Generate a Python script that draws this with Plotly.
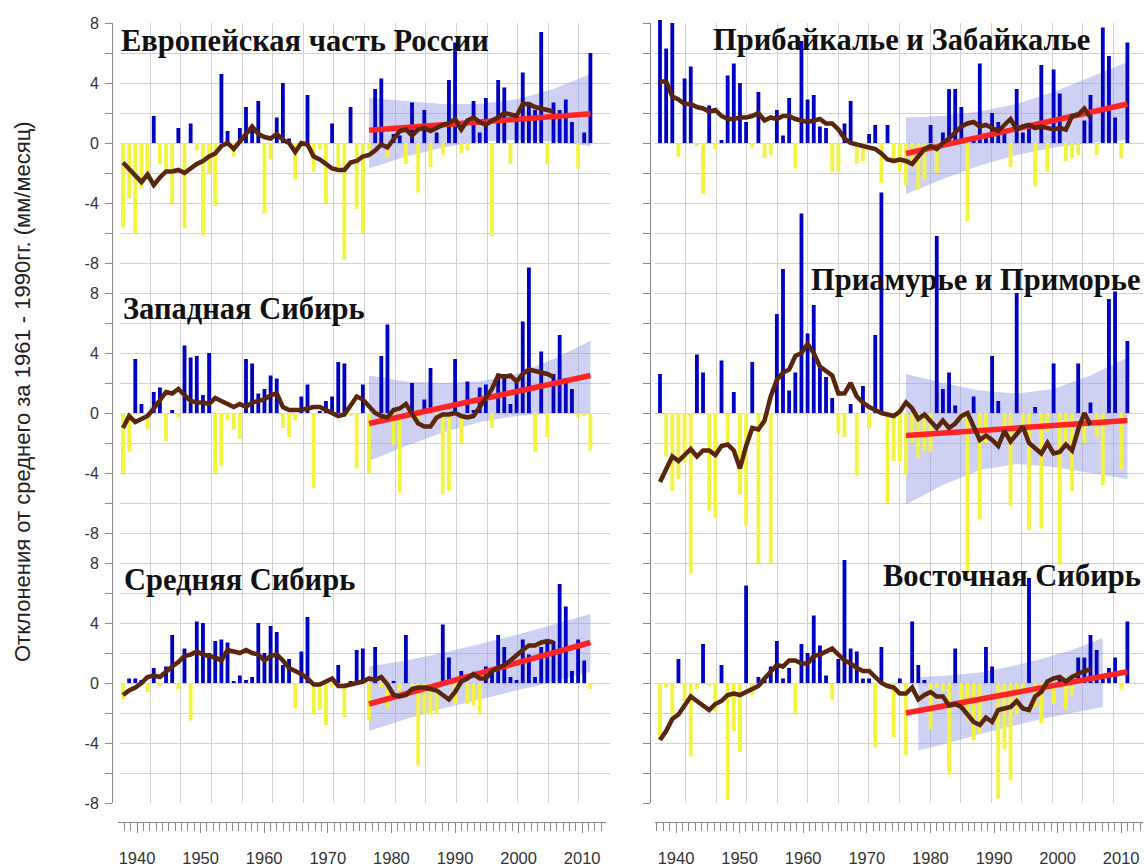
import plotly.graph_objects as go

# ---------------------------------------------------------------- data
YEARS = list(range(1936, 2013))
SMOOTH_YEARS = list(range(1936, 2007))
TREND_YEARS = [1976, 2012]
BAND_YEARS = [1976, 1982, 1988, 1994, 2000, 2006, 2012]
BAND_YEARS_ESIB = [1978, 1983, 1988, 1993, 1998, 2003, 2008]
DECADE_LABELS = [1940, 1950, 1960, 1970, 1980, 1990, 2000, 2010]
Y_TICKS = [-8, -4, 0, 4, 8]

EUR = [-5.6, -3.7, -6.0, -3.0, -2.0, 1.8, -1.4, -1.8, -4.0, 1.0,
       -5.7, 1.3, -0.5, -6.2, -2.0, -4.2, 4.6, 0.8, -0.9, 1.0,
       2.4, 1.1, 2.8, -4.7, -1.1, 1.7, 4.0, 0.3, -2.4, -0.3,
       3.2, -1.9, -0.4, -4.0, 1.3, -1.6, -7.8, 2.4, -4.4, -6.0,
       -0.5, 3.6, 4.3, -1.0, 0.6, 0.5, -1.4, 2.7, -3.3, 2.2,
       -1.6, 0.7, -0.8, 4.2, 6.7, -0.7, -0.5, 2.8, 0.7, 3.0,
       -6.2, 4.2, 3.7, -1.4, 1.5, 4.7, 2.5, 2.2, 7.4, -1.4,
       2.7, 2.2, 2.9, 1.4, -1.7, 0.7, 6.0]
EUR_SMOOTH = [-1.3, -1.7, -2.2, -2.6, -2.1, -2.8, -2.3, -1.9, -1.9, -1.8,
              -2.0, -1.7, -1.4, -1.2, -0.9, -0.7, -0.2, 0.0, -0.4, 0.1,
              0.6, 1.1, 0.6, 0.4, 0.3, 0.6, 0.2, 0.0, -0.6, 0.0,
              -0.1, -0.9, -1.1, -1.4, -1.7, -1.8, -1.8, -1.3, -1.2, -0.9,
              -0.8, -0.5, -0.1, -0.3, 0.3, 0.8, 0.9, 0.5, 0.9, 1.0,
              0.8, 1.0, 1.2, 1.3, 1.6, 0.9, 1.5, 1.7, 1.4, 1.2,
              1.5, 1.7, 2.0, 1.9, 1.8, 2.6, 2.6, 2.4, 2.3, 2.2, 2.1]
EUR_TREND = [0.85, 1.95]
EUR_BAND_UP = [3.0, 2.8, 2.6, 2.6, 2.9, 3.6, 4.6]
EUR_BAND_LO = [-1.7, -0.9, -0.3, 0.1, 0.2, 0.1, -0.2]

BAI = [8.2, 6.3, 8.0, -0.9, 4.3, 5.1, -0.2, -3.4, 2.5, -0.4,
       0.2, 4.5, 5.3, 4.0, 1.4, -0.3, 3.4, -1.0, -0.8, 2.2,
       0.5, 3.0, -1.7, 6.8, 2.9, 3.2, 1.1, 1.0, -1.9, -1.9,
       1.3, 2.8, -1.4, -1.2, 0.6, 1.2, -2.7, 1.2, -1.4, -1.9,
       -2.8, -1.6, -3.1, -2.4, 1.2, -2.0, 0.7, 3.6, 3.6, 2.4,
       -5.2, 0.3, 5.3, 0.5, 2.0, 1.4, 0.8, -1.6, 3.6, 0.7,
       1.0, -2.9, 5.2, -1.9, 4.9, 3.3, -1.2, -1.0, -0.8, 1.5,
       3.2, -0.8, 7.7, 5.8, 1.7, -1.0, 6.7]
BAI_SMOOTH = [4.1, 4.1, 3.1, 2.9, 2.6, 2.6, 2.4, 2.3, 2.1, 2.2,
              1.8, 1.6, 1.6, 1.7, 1.7, 1.8, 2.0, 1.5, 1.7, 1.6,
              1.8, 1.8, 1.6, 1.5, 1.4, 1.5, 1.6, 1.3, 1.3, 0.9,
              0.3, 0.0, -0.1, -0.2, -0.3, -0.4, -0.7, -1.1, -1.2, -1.1,
              -1.2, -1.4, -0.9, -0.4, -0.2, -0.4, 0.0, 0.3, 0.7, 1.1,
              1.3, 1.4, 1.1, 1.2, 1.0, 0.8, 1.2, 1.6, 0.9, 1.1,
              1.2, 1.0, 1.1, 1.0, 0.9, 1.0, 0.9, 1.8, 1.9, 2.3, 1.7]
BAI_TREND = [-0.7, 2.6]
BAI_BAND_UP = [1.7, 1.8, 2.1, 2.6, 3.4, 4.4, 5.4]
BAI_BAND_LO = [-3.4, -2.4, -1.5, -0.8, -0.3, 0.0, 0.2]

WSIB = [-4.0, -2.6, 3.6, 0.6, -1.1, 1.4, 1.7, -1.9, 0.2, -0.3,
        4.5, 3.7, 3.8, 1.2, 4.0, -4.0, -3.5, -0.5, -1.1, -1.7,
        3.6, 3.3, 1.3, 1.6, 2.5, 2.3, -1.0, -1.6, -0.5, 1.1,
        1.9, -5.0, 0.1, 0.8, 1.1, 3.4, 3.3, -0.2, -3.7, 1.9,
        -4.0, -0.2, 3.8, 5.9, -2.1, -5.3, -0.3, 2.0, -0.4, 0.9,
        3.0, -0.3, -5.4, -5.2, 3.6, -2.0, 2.1, 0.2, 1.7, 1.9,
        -1.0, 2.6, 2.6, 0.6, 2.0, 6.1, 9.7, -2.6, 4.1, -1.6,
        2.6, 5.2, 2.3, 1.6, -0.3, -0.2, -2.5]
WSIB_SMOOTH = [-1.0, -0.2, -0.6, -0.4, -0.2, 0.3, 0.9, 1.4, 1.3, 1.6,
               1.2, 0.8, 0.7, 0.7, 0.6, 1.0, 0.8, 0.6, 0.4, 0.6,
               0.4, 0.7, 0.8, 0.9, 1.2, 1.3, 0.4, 0.2, 0.2, 0.2,
               0.3, 0.4, 0.4, 0.2, 0.0, -0.2, -0.1, 0.5, 1.1, 0.9,
               0.4, 0.0, -0.2, -0.3, 0.2, 0.3, 0.6, 0.0, -0.7, -0.9,
               -0.9, -0.3, -0.1, -0.1, 0.0, -0.2, -0.3, -0.2, 0.4, 1.1,
               1.6, 2.5, 2.4, 2.5, 2.1, 2.6, 2.9, 2.8, 2.7, 2.6, 2.4]
WSIB_TREND = [-0.7, 2.5]
WSIB_BAND_UP = [2.5, 2.1, 2.0, 2.1, 2.6, 3.6, 4.8]
WSIB_BAND_LO = [-3.2, -2.2, -1.3, -0.6, -0.2, 0.0, 0.0]

AMUR = [2.6, -2.9, -5.2, -4.4, -3.3, -10.7, 3.9, 2.7, -6.5, -7.0,
        3.5, -2.0, 1.4, -5.4, -7.5, 3.4, -10.0, -0.8, -10.0, 6.6,
        9.6, 1.5, 2.7, 13.3, 5.3, 7.2, 3.1, 2.4, 1.0, -1.4,
        -1.6, 0.6, -4.2, 1.8, -1.0, 5.2, 14.7, -6.0, -3.2, -3.2,
        -4.1, -2.0, -3.0, -2.5, -2.6, 11.8, 1.6, 2.7, 0.5, -0.5,
        -10.7, 1.1, -7.1, -2.0, 3.8, 0.8, -1.0, -6.2, 8.0, -0.9,
        -7.8, 0.4, -7.7, -1.2, 3.3, -10.1, -2.3, -5.2, 3.3, -2.0,
        0.7, -1.6, -4.8, 7.6, 8.1, -3.8, 4.8]
AMUR_SMOOTH = [-4.6, -3.7, -2.9, -3.2, -2.8, -2.4, -2.9, -2.5, -2.5, -2.8,
               -2.2, -2.1, -2.5, -3.7, -2.2, -1.0, -1.1, -0.5, 1.1, 2.2,
               2.7, 2.9, 3.8, 4.0, 4.6, 4.0, 3.1, 2.8, 2.5, 1.3,
               1.3, 2.0, 1.1, 0.7, 0.4, 0.2, 0.0, -0.1, -0.2, 0.1,
               0.7, 0.3, -0.4, -0.1, -0.5, -1.0, -0.5, -1.0, -0.7, -0.2,
               0.0, -0.9, -1.8, -1.5, -1.8, -2.2, -1.2, -1.9, -1.4, -0.9,
               -2.0, -2.4, -2.7, -2.0, -2.7, -2.6, -2.1, -2.5, -1.1, 0.0, -0.8]
AMUR_TREND = [-1.5, -0.5]
AMUR_BAND_UP = [2.6, 2.0, 1.5, 1.3, 1.6, 2.5, 3.7]
AMUR_BAND_LO = [-6.1, -4.8, -3.8, -3.4, -3.6, -4.0, -4.4]

CSIB = [-1.1, 0.3, 0.3, 0.2, -0.6, 1.0, -0.2, 1.1, 3.2, -0.4,
        2.3, -2.5, 4.1, 4.0, 2.0, 2.8, 2.9, 2.7, 0.1, 0.5,
        0.2, 0.4, 4.0, 2.0, 3.8, 3.4, 1.2, 1.6, -1.7, 2.1,
        4.4, -2.1, -1.8, -2.8, -0.3, 1.2, -2.3, 0.1, 2.2, 2.3,
        -2.5, 2.4, -0.3, -1.6, 0.1, -0.5, 3.2, -0.2, -5.5, -2.1,
        -2.1, -2.0, 3.9, 1.7, -1.4, 0.8, -1.4, -1.5, -2.0, 1.1,
        0.8, 3.2, 2.4, 0.4, 0.2, 2.9, 1.9, 0.4, 2.4, 2.9,
        2.8, 6.6, 5.1, 0.8, 2.9, 1.5, -0.4]
CSIB_SMOOTH = [-0.8, -0.5, -0.3, 0.0, 0.4, 0.5, 0.4, 0.8, 1.1, 1.4,
               1.8, 1.9, 2.1, 1.9, 1.8, 1.7, 1.5, 2.2, 2.1, 2.0,
               2.2, 2.0, 1.9, 1.5, 1.8, 1.9, 1.5, 1.0, 0.8, 0.6,
               0.3, -0.1, -0.1, 0.1, 0.3, -0.2, -0.2, -0.1, 0.0, 0.1,
               0.3, 0.2, 0.4, -0.1, -0.8, -0.9, -0.8, -0.4, -0.3, -0.3,
               -0.4, -0.5, -0.8, -1.1, -0.6, 0.1, 0.3, 0.6, 0.3, 0.3,
               0.8, 1.0, 1.2, 1.5, 1.9, 2.2, 2.5, 2.5, 2.7, 2.8, 2.7]
CSIB_TREND = [-1.4, 2.7]
CSIB_BAND_UP = [1.1, 1.5, 2.0, 2.6, 3.2, 3.9, 4.6]
CSIB_BAND_LO = [-3.2, -2.4, -1.7, -1.1, -0.5, 0.1, 0.75]

ESIB = [-3.8, -0.3, -2.2, 1.6, -1.2, -4.9, -0.4, 2.6, -0.2, -1.9,
        1.2, -7.8, -3.2, -4.6, 6.5, -0.8, 0.4, 0.2, 1.1, 2.8,
        0.3, 1.0, -2.1, 2.6, 2.0, 4.5, 2.5, 0.5, -1.1, 1.6,
        8.2, 2.3, 2.1, 0.3, 0.3, -4.3, 2.4, -0.2, -3.6, 0.3,
        -4.8, 4.1, 1.2, 0.2, -3.1, -0.3, -0.6, -6.1, 2.3, -1.2,
        -2.5, -3.8, -3.4, 2.4, 1.1, -7.7, -4.4, -6.5, -2.1, -0.5,
        7.0, -1.6, -2.7, -0.5, -1.4, 0.4, -1.8, -0.8, 1.7, 1.7,
        3.2, 2.2, 0.5, 1.0, 1.7, -0.4, 4.1]
ESIB_SMOOTH = [-3.8, -3.2, -2.4, -2.1, -1.5, -0.9, -1.2, -1.5, -1.8, -1.4,
               -1.2, -0.8, -0.7, -0.8, -0.6, -0.4, -0.2, 0.3, 0.8, 1.2,
               1.1, 1.5, 1.5, 1.3, 1.3, 1.8, 1.9, 2.1, 2.3, 1.9,
               1.5, 1.3, 1.0, 0.8, 0.8, 0.4, 0.0, -0.2, -0.3, -0.7,
               -0.7, -0.3, -1.1, -0.8, -0.6, -0.9, -0.9, -1.5, -1.4, -1.6,
               -2.1, -2.6, -2.8, -2.3, -2.6, -1.8, -1.7, -1.6, -1.2, -1.7,
               -1.8, -0.9, -0.6, 0.1, 0.3, 0.4, 0.1, 0.4, 0.6, 0.8, 0.9]
ESIB_TREND = [-2.0, 0.75]
ESIB_BAND_UP = [0.4, 0.5, 0.7, 1.1, 1.6, 2.2, 3.0]
ESIB_BAND_LO = [-4.5, -4.0, -3.4, -2.9, -2.4, -2.0, -1.6]

# ---------------------------------------------------------------- geometry
W, H = 1144, 867
PX_PER_UNIT = 15          # vertical scale: 15 px per mm/month
DATA_TOP, DATA_BOTTOM = 5, 812
GRID_TOP, GRID_BOTTOM = 23, 803
ROW_ZERO = [143, 413, 683]  # pixel row of the zero line in each row
PX_PER_YEAR = 6.15


def fx(px):
    return px / W


def fy(py):
    return 1 - py / H


COLS = {
    "left": dict(grid=(119.5, 609.5), first_bar=123, axis_px=112,
                 ticks=(118, 606, 137)),
    "right": dict(grid=(655, 1144), first_bar=660, axis_px=650,
                  ticks=(655, 1143, 676)),
}

BLUE = "#0000c4"
YELLOW = "#f4f43c"
BROWN = "#5a260b"
RED = "#ff2424"
BAND = "rgba(140,146,228,0.42)"
GRIDC = "#d2d2d2"
AXISC = "#8a8a8a"

PANELS = [
    dict(col="left", row=0, yid=2, title="Европейская часть России", data=EUR,
         smooth=EUR_SMOOTH, trend=EUR_TREND, byears=BAND_YEARS,
         up=EUR_BAND_UP, lo=EUR_BAND_LO, tx=119, ty=41, anchor="left"),
    dict(col="left", row=1, yid=3, title="Западная Сибирь", data=WSIB,
         smooth=WSIB_SMOOTH, trend=WSIB_TREND, byears=BAND_YEARS,
         up=WSIB_BAND_UP, lo=WSIB_BAND_LO, tx=121, ty=309, anchor="left"),
    dict(col="left", row=2, yid=4, title="Средняя Сибирь", data=CSIB,
         smooth=CSIB_SMOOTH, trend=CSIB_TREND, byears=BAND_YEARS,
         up=CSIB_BAND_UP, lo=CSIB_BAND_LO, tx=122, ty=580, anchor="left"),
    dict(col="right", row=0, yid=6, title="Прибайкалье и Забайкалье", data=BAI,
         smooth=BAI_SMOOTH, trend=BAI_TREND, byears=BAND_YEARS,
         up=BAI_BAND_UP, lo=BAI_BAND_LO, tx=711, ty=40, anchor="left"),
    dict(col="right", row=1, yid=7, title="Приамурье и Приморье", data=AMUR,
         smooth=AMUR_SMOOTH, trend=AMUR_TREND, byears=BAND_YEARS,
         up=AMUR_BAND_UP, lo=AMUR_BAND_LO, tx=1143, ty=280, anchor="right"),
    dict(col="right", row=2, yid=8, title="Восточная Сибирь", data=ESIB,
         smooth=ESIB_SMOOTH, trend=ESIB_TREND, byears=BAND_YEARS_ESIB,
         up=ESIB_BAND_UP, lo=ESIB_BAND_LO, tx=1143, ty=576, anchor="right"),
]

# axis ids per column: grid x / grid y / data x / decade-label x
AX = {"left": dict(gx=1, gy=1, dx=2, lx=5), "right": dict(gx=3, gy=5, dx=4, lx=6)}


def ax_name(kind, i):
    return kind if i == 1 else f"{kind}{i}"


def ref(kind, i):
    return kind[0] if i == 1 else f"{kind[0]}{i}"


fig = go.Figure()
layout = dict(
    width=W, height=H, margin=dict(l=0, r=0, t=0, b=0),
    paper_bgcolor="white", plot_bgcolor="rgba(0,0,0,0)",
    showlegend=False, barmode="overlay",
    font=dict(family="Arial, Liberation Sans, sans-serif", color="#333"),
)
shapes, annotations = [], []

# hidden y axis that carries the decade-label axes
layout["yaxis9"] = dict(visible=False, domain=[0, 1], range=[0, 1])

for col, c in COLS.items():
    a = AX[col]
    g0, g1 = c["grid"]
    x_start = 1936 - (c["first_bar"] - g0) / PX_PER_YEAR
    x_end = x_start + (g1 - g0) / PX_PER_YEAR

    # background grid (16 x 26 cells) and the left axis line with ticks
    layout[ax_name("xaxis", a["gx"])] = dict(
        domain=[fx(g0), fx(g1)], range=[0, 16], dtick=1, tick0=0,
        showgrid=True, gridcolor=GRIDC, gridwidth=1, zeroline=False,
        showticklabels=False, ticks="", showline=False, anchor=ref("y", a["gy"]))
    layout[ax_name("yaxis", a["gy"])] = dict(
        domain=[fy(GRID_BOTTOM), fy(GRID_TOP)], range=[0, 26], dtick=1, tick0=0,
        showgrid=True, gridcolor=GRIDC, gridwidth=1, zeroline=False,
        showticklabels=False, ticks="outside", ticklen=7, tickcolor=AXISC,
        showline=True, linecolor=AXISC, anchor="free", position=fx(c["axis_px"]))
    fig.add_trace(go.Scatter(x=[0], y=[0], mode="markers", marker=dict(opacity=0),
                             xaxis=ref("x", a["gx"]), yaxis=ref("y", a["gy"]),
                             hoverinfo="skip"))

    # data x axis (years)
    layout[ax_name("xaxis", a["dx"])] = dict(
        domain=[fx(g0), fx(g1)], range=[x_start, x_end], visible=False,
        anchor="y2" if col == "left" else "y6")

    # decade labels along the bottom
    t0, t1, t1940 = c["ticks"]
    px_dec = 6.36
    layout[ax_name("xaxis", a["lx"])] = dict(
        domain=[fx(t0), fx(t1)],
        range=[1940 - (t1940 - t0) / px_dec, 1940 + (t1 - t1940) / px_dec],
        anchor="free", position=fy(822), side="bottom",
        tickmode="array", tickvals=DECADE_LABELS,
        ticktext=[str(v) for v in DECADE_LABELS],
        ticks="outside", ticklen=10, tickcolor=AXISC,
        minor=dict(dtick=1, tick0=1940, ticks="outside", ticklen=8, tickcolor=AXISC),
        showline=True, linecolor=AXISC, showgrid=False, zeroline=False,
        ticklabelstandoff=11, tickfont=dict(size=16.5, color="#333"))
    fig.add_trace(go.Scatter(x=[1990], y=[0.5], mode="markers", marker=dict(opacity=0),
                             xaxis=ref("x", a["lx"]), yaxis="y9", hoverinfo="skip"))

for p in PANELS:
    col = p["col"]
    a = AX[col]
    c = COLS[col]
    z = ROW_ZERO[p["row"]]
    xr = ref("x", a["dx"])
    yr = ref("y", p["yid"])
    yax = dict(domain=[fy(DATA_BOTTOM), fy(DATA_TOP)],
               range=[-(DATA_BOTTOM - z) / PX_PER_UNIT, (z - DATA_TOP) / PX_PER_UNIT],
               showgrid=False, zeroline=False, showline=False,
               anchor="free", position=fx(c["axis_px"]))
    if col == "left":
        yax.update(tickmode="array", tickvals=Y_TICKS, ticktext=[str(v) for v in Y_TICKS],
                   ticks="outside", ticklen=10, tickcolor="rgba(0,0,0,0)",
                   tickfont=dict(size=16, color="#333"))
    else:
        yax.update(showticklabels=False, ticks="")
    layout[ax_name("yaxis", p["yid"])] = yax

    # confidence band of the trend
    pts = list(zip(p["byears"], p["up"])) + list(zip(p["byears"][::-1], p["lo"][::-1]))
    path = "M " + " L ".join(f"{x},{y}" for x, y in pts) + " Z"
    shapes.append(dict(type="path", path=path, xref=xr, yref=yr,
                       fillcolor=BAND, line=dict(width=0), layer="between"))

    # yearly anomalies
    fig.add_trace(go.Bar(
        x=YEARS, y=p["data"], width=0.62, xaxis=xr, yaxis=yr,
        marker=dict(color=[BLUE if v >= 0 else YELLOW for v in p["data"]],
                    line=dict(width=0))))
    # linear trend 1976-2012
    fig.add_trace(go.Scatter(x=TREND_YEARS, y=p["trend"], mode="lines",
                             line=dict(color=RED, width=5.5), xaxis=xr, yaxis=yr))
    # smoothed course
    fig.add_trace(go.Scatter(x=SMOOTH_YEARS[:len(p["smooth"])], y=p["smooth"],
                             mode="lines", line=dict(color=BROWN, width=4.5),
                             xaxis=xr, yaxis=yr))

    annotations.append(dict(
        text=f"<b>{p['title']}</b>", xref="paper", yref="paper",
        x=fx(p["tx"]), y=fy(p["ty"]), xanchor=p["anchor"], yanchor="middle",
        showarrow=False,
        font=dict(family="Liberation Serif, Times New Roman, serif", size=30.5, color="#111")))

annotations.append(dict(
    text="Отклонения от среднего за 1961 - 1990гг. (мм/месяц)",
    xref="paper", yref="paper", x=fx(22), y=fy(392), textangle=-90,
    xanchor="center", yanchor="middle", showarrow=False,
    font=dict(family="Arial, Liberation Sans, sans-serif", size=22, color="#222")))

layout["shapes"] = shapes
layout["annotations"] = annotations
fig.update_layout(**layout)
fig.write_html("out.html")
